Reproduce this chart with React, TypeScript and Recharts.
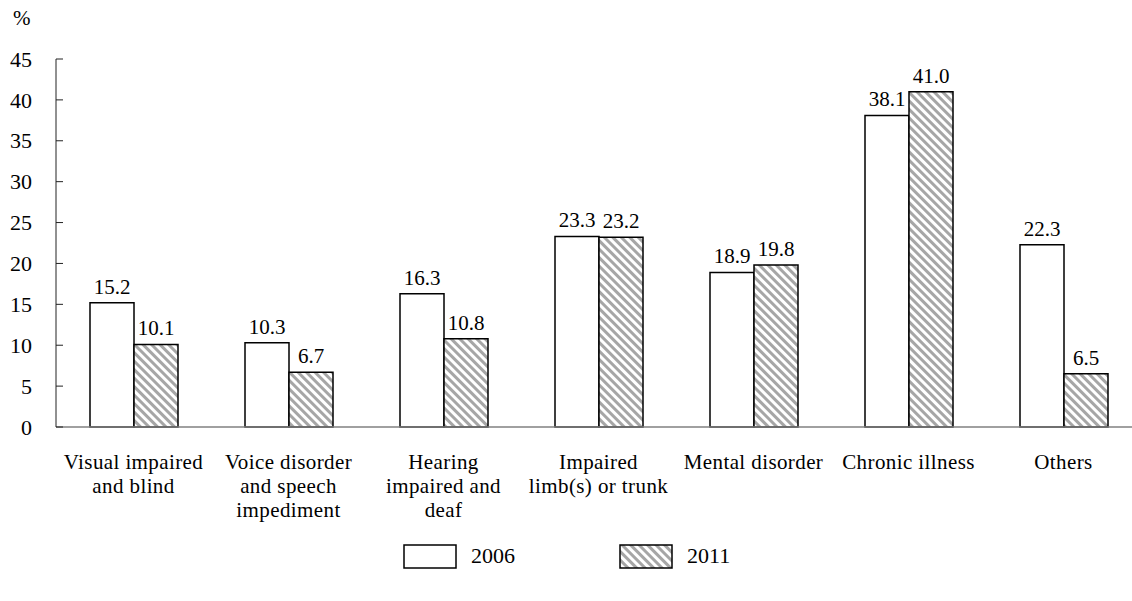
import React from 'react';
import { BarChart, Bar, XAxis, YAxis, LabelList } from 'recharts';

const categories = [
    'Visual impaired\nand blind',
    'Voice disorder\nand speech\nimpediment',
    'Hearing\nimpaired and\ndeaf',
    'Impaired\nlimb(s) or trunk',
    'Mental disorder',
    'Chronic illness',
    'Others',
];
const values2006 = [15.2, 10.3, 16.3, 23.3, 18.9, 38.1, 22.3];
const values2011 = [10.1, 6.7, 10.8, 23.2, 19.8, 41.0, 6.5];
const yTicks = [0, 5, 10, 15, 20, 25, 30, 35, 40, 45];
const seriesNames = ['2006', '2011'];

const data = categories.map((name, i) => ({
    name,
    y2006: values2006[i],
    y2011: values2011[i],
}));

const FONT = '"Liberation Serif", "Times New Roman", serif';
const FS = 21;

// category labels split on newlines
const CategoryTick = ({ x, y, payload }: { x?: number; y?: number; payload?: { value: string } }) => {
    const lines = String(payload?.value ?? '').split('\n');
    return (
        <text x={x} y={(y ?? 0) + 42} textAnchor="middle" fontFamily={FONT} fontSize={FS} letterSpacing={0.4} fill="#000">
            {lines.map((line, i) => (
                <tspan key={i} x={x} dy={i === 0 ? 0 : 24}>
                    {line}
                </tspan>
            ))}
        </text>
    );
};

// y ticks with inward tick marks
const ValueTick = ({ x, y, payload }: { x?: number; y?: number; payload?: { value: number } }) => (
    <g>
        <line x1={x} x2={(x ?? 0) + 7} y1={y} y2={y} stroke="#222" strokeWidth={1} />
        <text x={(x ?? 0) - 24} y={y} dy="0.35em" textAnchor="end" fontFamily={FONT} fontSize={22} fill="#000">
            {payload?.value}
        </text>
    </g>
);

export default function App() {
    return (
        <div style={{ position: 'absolute', left: 0, top: 0, width: 1132, height: 601, overflow: 'hidden', background: '#fff', fontFamily: FONT, fontSize: FS, color: '#000' }}>
            <span style={{ position: 'absolute', left: 13, top: 6 }}>%</span>
            <BarChart
                width={1141}
                height={601}
                data={data}
                margin={{ top: 59, right: 0, left: 0, bottom: 74 }}
                barGap={0}
                barSize={44}
            >
                <defs>
                    <pattern id="hatch" patternUnits="userSpaceOnUse" width={6} height={6} patternTransform="rotate(-45)">
                        <rect x={0} y={0} width={6} height={6} fill="#fff" />
                        <rect x={0} y={0} width={3} height={6} fill="#a6a6a6" />
                    </pattern>
                </defs>
                <XAxis
                    dataKey="name"
                    interval={0}
                    height={100}
                    tickSize={0}
                    tickMargin={0}
                    tickLine={false}
                    axisLine={{ stroke: '#808080', strokeWidth: 1.5 }}
                    tick={<CategoryTick />}
                />
                <YAxis
                    width={56}
                    domain={[0, 45]}
                    ticks={yTicks}
                    interval={0}
                    tickSize={0}
                    tickMargin={0}
                    tickLine={false}
                    axisLine={{ stroke: '#222', strokeWidth: 1 }}
                    tick={<ValueTick />}
                />
                <Bar dataKey="y2006" name={seriesNames[0]} fill="#fff" stroke="#000" strokeWidth={1.5} isAnimationActive={false}>
                    <LabelList
                        dataKey="y2006"
                        position="top"
                        offset={9}
                        formatter={(v: number) => v.toFixed(1)}
                        style={{ fontFamily: FONT, fontSize: FS, fill: '#000' }}
                    />
                </Bar>
                <Bar dataKey="y2011" name={seriesNames[1]} fill="url(#hatch)" stroke="#000" strokeWidth={1.5} isAnimationActive={false}>
                    <LabelList
                        dataKey="y2011"
                        position="top"
                        offset={9}
                        formatter={(v: number) => v.toFixed(1)}
                        style={{ fontFamily: FONT, fontSize: FS, fill: '#000' }}
                    />
                </Bar>
            </BarChart>
            {/* legend drawn outside the chart so it doesn't shrink the plot */}
            <div style={{ position: 'absolute', left: 403, top: 543, display: 'flex', alignItems: 'center', fontSize: 22 }}>
                <svg width={54} height={25} style={{ display: 'block' }}>
                    <rect x={1} y={1} width={52} height={23} fill="#fff" stroke="#000" strokeWidth={1.5} />
                </svg>
                <span style={{ marginLeft: 14, width: 148 }}>{seriesNames[0]}</span>
                <svg width={54} height={25} style={{ display: 'block' }}>
                    <rect x={1} y={1} width={52} height={23} fill="url(#hatch)" stroke="#000" strokeWidth={1.5} />
                </svg>
                <span style={{ marginLeft: 14 }}>{seriesNames[1]}</span>
            </div>
        </div>
    );
}
